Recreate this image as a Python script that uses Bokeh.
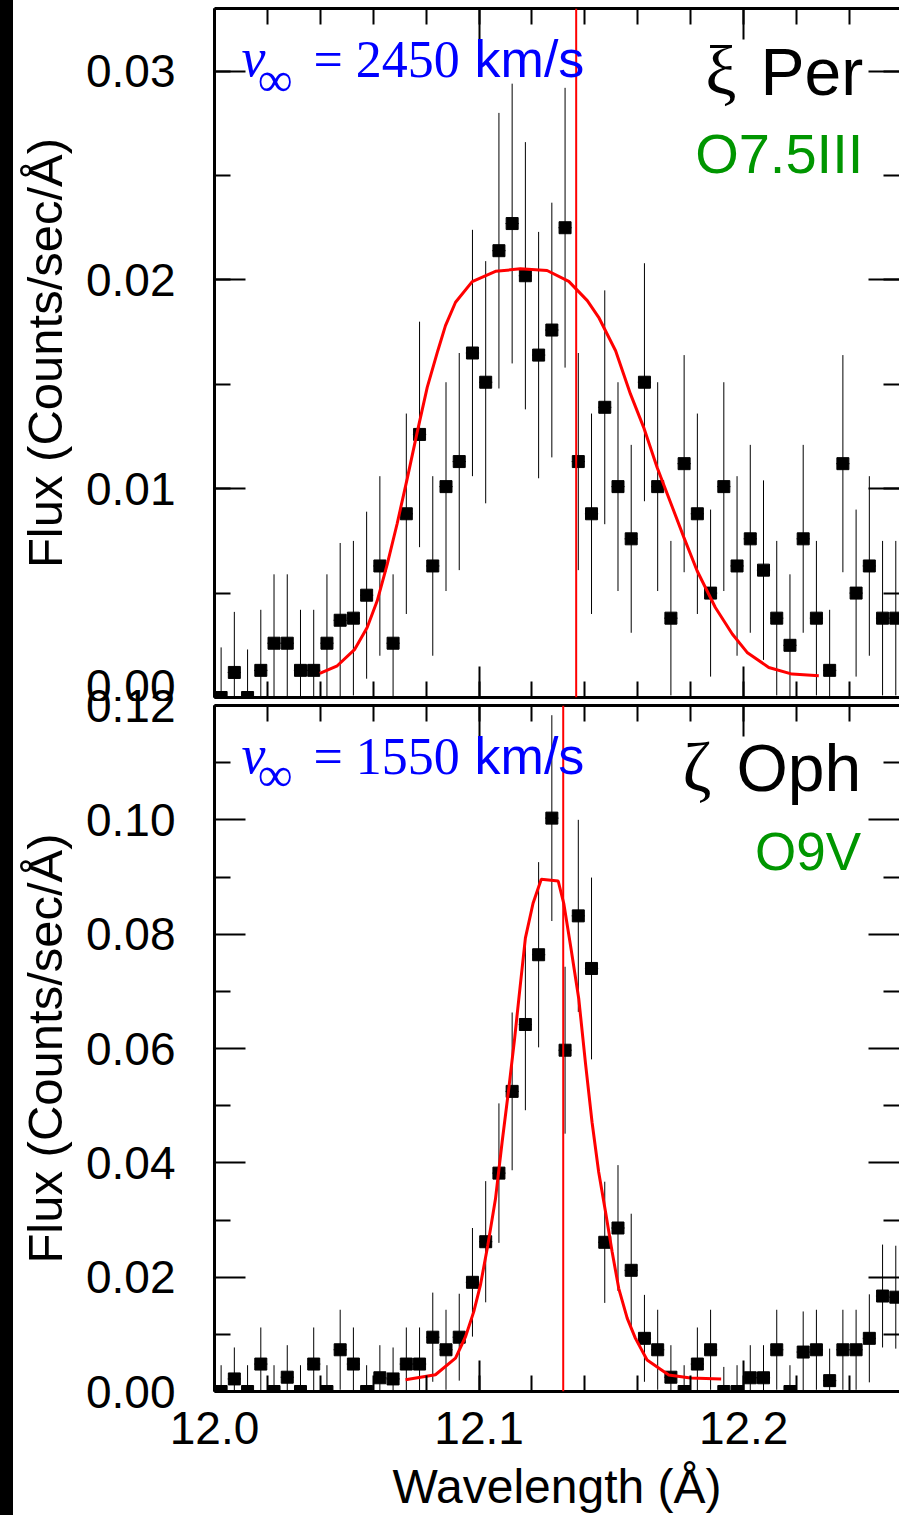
import numpy as np
from bokeh.plotting import figure
from bokeh.layouts import column, row
from bokeh.models import (Range1d, LinearAxis, SingleIntervalTicker, FixedTicker,
                          PrintfTickFormatter, Span, Label, ColumnDataSource, Spacer)
from bokeh.embed import file_html
from bokeh.resources import INLINE

# ---------------- data ----------------
wavelength = [12.0025, 12.0075, 12.0125, 12.0175, 12.0225, 12.0275, 12.0325, 12.0375,
              12.0425, 12.0475, 12.0525, 12.0575, 12.0625, 12.0675, 12.0725, 12.0775,
              12.0825, 12.0875, 12.0925, 12.0975, 12.1025, 12.1075, 12.1125, 12.1175,
              12.1225, 12.1275, 12.1325, 12.1375, 12.1425, 12.1475, 12.1525, 12.1575,
              12.1625, 12.1675, 12.1725, 12.1775, 12.1825, 12.1875, 12.1925, 12.1975,
              12.2025, 12.2075, 12.2125, 12.2175, 12.2225, 12.2275, 12.2325, 12.2375,
              12.2425, 12.2475, 12.2525, 12.2575]
bin_half_width = 0.0025

# xi Per
xiper_flux = [0.0000, 0.0012, 0.0000, 0.0013, 0.0026, 0.0026, 0.0013, 0.0013,
              0.0026, 0.0037, 0.0038, 0.0049, 0.0063, 0.0026, 0.0088, 0.0126,
              0.0063, 0.0101, 0.0113, 0.0165, 0.0151, 0.0214, 0.0227, 0.0202,
              0.0164, 0.0176, 0.0225, 0.0113, 0.0088, 0.0139, 0.0101, 0.0076,
              0.0151, 0.0101, 0.0038, 0.0112, 0.0088, 0.0050, 0.0101, 0.0063,
              0.0076, 0.0061, 0.0038, 0.0025, 0.0076, 0.0038, 0.0013, 0.0112,
              0.0050, 0.0063, 0.0038, 0.0038]
xiper_err = [0.0024, 0.0029, 0.0023, 0.0029, 0.0033, 0.0033, 0.0029, 0.0029,
             0.0033, 0.0037, 0.0037, 0.0040, 0.0043, 0.0033, 0.0048, 0.0054,
             0.0043, 0.0050, 0.0052, 0.0059, 0.0058, 0.0066, 0.0067, 0.0064,
             0.0059, 0.0061, 0.0067, 0.0052, 0.0048, 0.0056, 0.0050, 0.0045,
             0.0057, 0.0050, 0.0037, 0.0052, 0.0048, 0.0040, 0.0050, 0.0043,
             0.0045, 0.0043, 0.0037, 0.0034, 0.0045, 0.0037, 0.0029, 0.0052,
             0.0040, 0.0043, 0.0037, 0.0037]
xiper_model_wave = [12.0398, 12.0464, 12.0529, 12.0577, 12.0615, 12.0653, 12.0690, 12.0728,
                    12.0766, 12.0804, 12.0844, 12.0873, 12.0911, 12.0974, 12.1062, 12.1156,
                    12.1257, 12.1339, 12.1409, 12.1452, 12.1516, 12.1572, 12.1622, 12.1673,
                    12.1774, 12.1824, 12.1893, 12.1957, 12.2013, 12.2095, 12.2183, 12.2284]
xiper_model_flux = [0.00115, 0.00152, 0.00229, 0.00335, 0.00463, 0.00639, 0.00831, 0.01046,
                    0.01270, 0.01485, 0.01661, 0.01781, 0.01893, 0.01992, 0.02041, 0.02053,
                    0.02045, 0.01993, 0.01901, 0.01821, 0.01661, 0.01454, 0.01294, 0.01102,
                    0.00767, 0.00607, 0.00431, 0.00304, 0.00216, 0.00144, 0.00112, 0.00104]
xiper_line_center = 12.1367

# zeta Oph
zoph_flux = [0.0000, 0.0022, 0.0000, 0.0048, 0.0000, 0.0025, 0.0000, 0.0048,
             0.0000, 0.0073, 0.0048, 0.0000, 0.0024, 0.0022, 0.0048, 0.0048,
             0.0095, 0.0073, 0.0095, 0.0191, 0.0262, 0.0382, 0.0525, 0.0642,
             0.0764, 0.1003, 0.0597, 0.0832, 0.0740, 0.0261, 0.0286, 0.0212,
             0.0093, 0.0073, 0.0025, 0.0000, 0.0048, 0.0073, 0.0000, 0.0000,
             0.0024, 0.0024, 0.0073, 0.0000, 0.0069, 0.0073, 0.0019, 0.0073,
             0.0073, 0.0093, 0.0167, 0.0165]
zoph_err = [0.0046, 0.0055, 0.0046, 0.0064, 0.0046, 0.0056, 0.0046, 0.0064,
            0.0046, 0.0070, 0.0064, 0.0046, 0.0057, 0.0055, 0.0064, 0.0064,
            0.0078, 0.0070, 0.0076, 0.0095, 0.0106, 0.0122, 0.0138, 0.0150,
            0.0162, 0.0180, 0.0146, 0.0168, 0.0159, 0.0106, 0.0110, 0.0099,
            0.0076, 0.0070, 0.0056, 0.0046, 0.0064, 0.0070, 0.0043, 0.0046,
            0.0057, 0.0057, 0.0070, 0.0046, 0.0071, 0.0070, 0.0056, 0.0070,
            0.0070, 0.0077, 0.0090, 0.0090]
zoph_model_wave = [12.0722, 12.0835, 12.0911, 12.0949, 12.0980, 12.1005, 12.1033, 12.1062,
                   12.1087, 12.1112, 12.1134, 12.1150, 12.1175, 12.1204, 12.1235, 12.1299,
                   12.1320, 12.1348, 12.1377, 12.1402, 12.1427, 12.1452, 12.1478, 12.1503,
                   12.1528, 12.1560, 12.1591, 12.1635, 12.1717, 12.1799, 12.1915]
zoph_model_flux = [0.00206, 0.00293, 0.00584, 0.00962, 0.01397, 0.01860, 0.02557, 0.03370,
                   0.04360, 0.05290, 0.06160, 0.06860, 0.07930, 0.08540, 0.08960, 0.08930,
                   0.08540, 0.07730, 0.06860, 0.05750, 0.04710, 0.03840, 0.03140, 0.02440,
                   0.01800, 0.01280, 0.00930, 0.00550, 0.00290, 0.00235, 0.00220]
zoph_line_center = 12.1318

x_ticks_major = 0.1
X_START, X_END = 12.0, 12.2589

SANS = "Liberation Sans"
SERIF = "Liberation Serif"
BLUE = "#0000ff"
GREEN = "#009600"
TICK_FS = "46px"
OVERLAP = 30


def style_axis(ax, labels=True):
    ax.axis_line_width = 3
    ax.axis_line_color = "black"
    ax.major_tick_in = 31
    ax.major_tick_out = 0
    ax.minor_tick_in = 16
    ax.minor_tick_out = 0
    ax.major_tick_line_width = 2
    ax.minor_tick_line_width = 2
    ax.major_tick_line_color = "black"
    ax.minor_tick_line_color = "black"
    ax.major_label_text_font = SANS
    ax.major_label_text_color = "black"
    ax.axis_label_text_color = "black"
    if labels:
        ax.major_label_text_font_size = TICK_FS
    else:
        ax.major_label_text_font_size = "0px"
        ax.major_label_standoff = 0


def make_panel(height, y_max, y_ticker, top_border, bottom_border, x_labels):
    p = figure(width=886, height=height,
               x_range=Range1d(X_START, X_END), y_range=Range1d(0, y_max),
               output_backend="svg", toolbar_location=None,
               x_axis_type=None, y_axis_type=None,
               min_border_left=201, min_border_right=0,
               min_border_top=top_border, min_border_bottom=bottom_border)
    p.outline_line_color = None
    p.background_fill_color = "white"
    p.border_fill_color = "white"

    left = LinearAxis(ticker=y_ticker, formatter=PrintfTickFormatter(format="%.2f"),
                      axis_label="Flux (Counts/sec/Å)")
    style_axis(left)
    left.major_label_standoff = 39
    left.axis_label_text_font = SANS
    left.axis_label_text_font_style = "normal"
    left.axis_label_text_font_size = "49px"
    left.axis_label_standoff = 11
    p.add_layout(left, "left")

    right = LinearAxis(ticker=y_ticker)
    style_axis(right, labels=False)
    right.axis_line_color = None
    p.add_layout(right, "right")

    xt = SingleIntervalTicker(interval=x_ticks_major, num_minor_ticks=5)
    bottom = LinearAxis(ticker=xt, formatter=PrintfTickFormatter(format="%.1f"))
    style_axis(bottom, labels=x_labels)
    if x_labels:
        bottom.major_label_standoff = 20
        bottom.axis_label = "Wavelength (Å)"
        bottom.axis_label_text_font = SANS
        bottom.axis_label_text_font_style = "normal"
        bottom.axis_label_text_font_size = "48px"
        bottom.axis_label_standoff = 13
    p.add_layout(bottom, "below")

    top = LinearAxis(ticker=SingleIntervalTicker(interval=x_ticks_major, num_minor_ticks=5))
    style_axis(top, labels=False)
    p.add_layout(top, "above")
    return p


def draw_data(p, flux, err, model_x, model_y, center):
    f = np.array(flux)
    e = np.array(err)
    w = np.array(wavelength)
    src = ColumnDataSource(dict(x=w, y=f, lo=f - e, hi=f + e,
                                xl=w - bin_half_width, xr=w + bin_half_width))
    p.segment(x0="x", y0="lo", x1="x", y1="hi", source=src, line_color="black", line_width=1)
    p.segment(x0="xl", y0="y", x1="xr", y1="y", source=src, line_color="black", line_width=1)
    p.scatter(x="x", y="y", source=src, marker="square", size=12,
              fill_color="black", line_color="black")
    p.add_layout(Span(location=center, dimension="height", line_color="red", line_width=2))
    p.line(model_x, model_y, line_color="red", line_width=3)


def label(p, x, y, text, font, size, color, style="normal", align="left"):
    p.add_layout(Label(x=x, y=y, text=text, text_font=font, text_font_size=size,
                       text_color=color, text_font_style=style, text_align=align,
                       text_baseline="middle"))


# ---------------- top panel: xi Per ----------------
p1 = make_panel(701, 0.033, SingleIntervalTicker(interval=0.01, num_minor_ticks=2),
                8, 4, False)
draw_data(p1, xiper_flux, xiper_err, xiper_model_wave, xiper_model_flux, xiper_line_center)
label(p1, 12.0102, 0.03061, "v", SERIF, "54px", BLUE, style="italic")
label(p1, 12.0163, 0.02962, "∞", SERIF, "49px", BLUE)
label(p1, 12.0374, 0.03058, "= 2450", SERIF, "52px", BLUE)
label(p1, 12.0983, 0.03060, "km/s", SANS, "52px", BLUE)
label(p1, 12.2452, 0.02997, "Per", SANS, "66px", "black", align="right")
label(p1, 12.1973, 0.03001, "ξ", SERIF, "70px", "black", align="right")
label(p1, 12.2452, 0.02606, "O7.5III", SANS, "56px", GREEN, align="right")

# ---------------- bottom panel: zeta Oph ----------------
p2 = make_panel(844, 0.12,
                FixedTicker(ticks=[0.0, 0.02, 0.04, 0.06, 0.08, 0.10, 0.12],
                            minor_ticks=[0.01, 0.03, 0.05, 0.07, 0.09, 0.11]),
                4 + OVERLAP, 122, True)
p2.border_fill_color = None
p2.styles = {"margin-top": f"-{OVERLAP}px"}
draw_data(p2, zoph_flux, zoph_err, zoph_model_wave, zoph_model_flux, zoph_line_center)
label(p2, 12.0102, 0.11128, "v", SERIF, "54px", BLUE, style="italic")
label(p2, 12.0163, 0.10797, "∞", SERIF, "49px", BLUE)
label(p2, 12.0374, 0.11115, "= 1550", SERIF, "52px", BLUE)
label(p2, 12.0983, 0.11123, "km/s", SANS, "52px", BLUE)
label(p2, 12.2444, 0.10900, "Oph", SANS, "66px", "black", align="right")
label(p2, 12.1878, 0.10912, "ζ", SERIF, "70px", "black", align="right")
label(p2, 12.2444, 0.09444, "O9V", SANS, "53px", GREEN, align="right")

strip = Spacer(width=13, height=1515, styles={"background-color": "black"})
layout = row(strip, column(p1, p2, spacing=0), spacing=0)

open("out.html", "w").write(file_html(layout, INLINE))
